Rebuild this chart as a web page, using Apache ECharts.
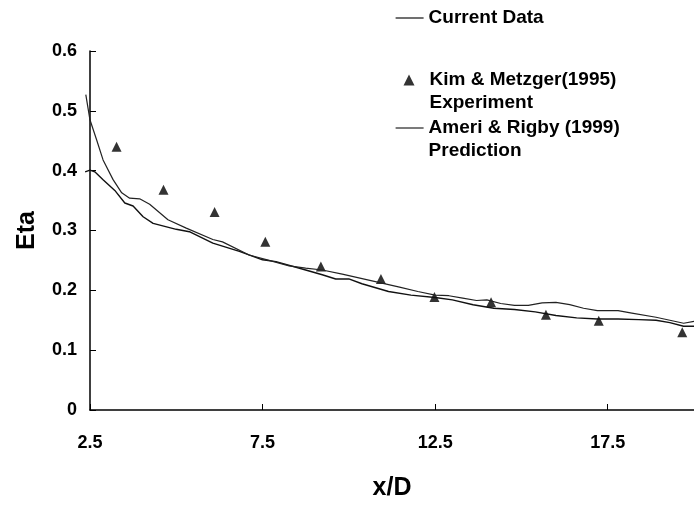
<!DOCTYPE html>
<html>
<head>
<meta charset="utf-8">
<script src="https://cdn.jsdelivr.net/npm/echarts@6/dist/echarts.min.js"></script>
<style>
  html, body { margin: 0; padding: 0; background: #fff; }
  #chart { width: 694px; height: 508px; }
</style>
</head>
<body>
<div id="chart"></div>
<script>
// Film cooling effectiveness (Eta) against downstream distance x/D

// Current computation
const currentX = [2.36, 2.5, 2.64, 2.88, 3.22, 3.51, 3.75, 4.04, 4.33, 5.0, 5.38, 6.06, 6.83, 7.5, 7.89, 8.75, 9.23, 9.62, 10.0, 10.38, 11.15, 11.8, 12.5, 13.0, 13.6, 14.2, 14.8, 15.4, 16.0, 16.6, 17.2, 17.8, 18.4, 18.9, 19.3, 19.7, 20.0];
const currentEta = [0.398, 0.401, 0.398, 0.385, 0.367, 0.346, 0.341, 0.323, 0.312, 0.302, 0.298, 0.279, 0.265, 0.251, 0.248, 0.234, 0.226, 0.219, 0.219, 0.211, 0.198, 0.192, 0.188, 0.184, 0.176, 0.170, 0.168, 0.164, 0.158, 0.154, 0.152, 0.152, 0.151, 0.150, 0.146, 0.140, 0.140];

// Kim & Metzger (1995) measurements
const expX = [3.27, 4.63, 6.11, 7.58, 9.19, 10.93, 12.48, 14.12, 15.71, 17.24, 19.66];
const expEta = [0.44, 0.368, 0.331, 0.281, 0.240, 0.219, 0.189, 0.180, 0.159, 0.149, 0.130];

// Ameri & Rigby (1999) prediction
const ameriX = [2.38, 2.5, 2.69, 2.88, 3.17, 3.42, 3.65, 3.94, 4.23, 4.76, 5.29, 6.06, 6.34, 7.11, 7.69, 8.27, 8.75, 9.23, 9.81, 10.96, 11.5, 12.0, 12.5, 12.9, 13.3, 13.7, 14.0, 14.4, 14.8, 15.2, 15.6, 16.0, 16.4, 16.8, 17.2, 17.8, 18.2, 18.9, 19.7, 20.0];
const ameriEta = [0.527, 0.485, 0.452, 0.418, 0.385, 0.363, 0.354, 0.353, 0.344, 0.318, 0.304, 0.285, 0.281, 0.259, 0.250, 0.241, 0.237, 0.234, 0.227, 0.212, 0.205, 0.198, 0.192, 0.191, 0.187, 0.183, 0.184, 0.178, 0.175, 0.175, 0.179, 0.180, 0.176, 0.170, 0.166, 0.166, 0.162, 0.155, 0.145, 0.148];

const seriesNames = ['Current Data', 'Kim & Metzger(1995)', 'Ameri & Rigby (1999)'];
const legendSubtitles = ['', 'Experiment', 'Prediction'];

const pairs = (xs, ys) => xs.map((x, i) => [x, ys[i]]);

const FONT = '"Liberation Sans", Arial, sans-serif';
const LINE_H = 23;

// Plot frame (px) and x range
const W = 694, H = 508;
const G = { left: 90, right: -3, top: 51, bottom: 98 };
const X_MIN = 2.5, X_MAX = 20;
// The curves start a little before x/D = 2.5, so they live on a hidden overlay grid
// whose x range begins earlier while keeping the same px-per-unit scale.
const X_MIN_WIDE = 2.2;
const pxPerUnit = (W - G.left - G.right) / (X_MAX - X_MIN);
const wideLeft = G.left - (X_MIN - X_MIN_WIDE) * pxPerUnit;

const legendText = (padLeft) => ({
  fontFamily: FONT,
  fontWeight: 'bold',
  fontSize: 19,
  color: '#000',
  lineHeight: LINE_H,
  padding: [0, 0, 0, padLeft]
});

// Two-line legend entries: a blank first line keeps the marker level with the series name
const twoLine = (sub) => (n) => '\n' + n + '\n' + sub;

const axisFont = { fontFamily: FONT, fontWeight: 'bold', color: '#000' };

const chart = echarts.init(document.getElementById('chart'), null, { renderer: 'canvas' });

chart.setOption({
  animation: false,
  backgroundColor: '#fff',
  grid: [
    { left: G.left, right: G.right, top: G.top, bottom: G.bottom },
    { left: wideLeft, right: G.right, top: G.top, bottom: G.bottom }
  ],
  legend: [
    {
      data: [seriesNames[0]],
      left: 395, top: 6.5, padding: 0,
      itemWidth: 28, itemHeight: 14,
      itemStyle: { opacity: 0 },
      lineStyle: { width: 1.2 },
      textStyle: legendText(0)
    },
    {
      data: [seriesNames[1]],
      left: 403.5, top: 45.5, padding: 0,
      itemWidth: 11, itemHeight: 11,
      formatter: twoLine(legendSubtitles[1]),
      textStyle: legendText(10)
    },
    {
      data: [seriesNames[2]],
      left: 395, top: 93.5, padding: 0,
      itemWidth: 28, itemHeight: 14,
      itemStyle: { opacity: 0 },
      lineStyle: { width: 1.2 },
      formatter: twoLine(legendSubtitles[2]),
      textStyle: legendText(0)
    }
  ],
  xAxis: [
    {
      type: 'value',
      gridIndex: 0,
      min: X_MIN, max: X_MAX, interval: 5,
      name: 'x/D',
      nameLocation: 'middle',
      nameGap: 66,
      nameTextStyle: Object.assign({ fontSize: 25 }, axisFont),
      axisLine: { show: true, onZero: false, lineStyle: { color: '#000', width: 1.5 } },
      axisTick: { show: true, inside: true, length: 6, lineStyle: { color: '#000', width: 1 } },
      axisLabel: Object.assign({ margin: 24, showMaxLabel: false, fontSize: 18 }, axisFont),
      splitLine: { show: false }
    },
    {
      type: 'value',
      gridIndex: 1,
      min: X_MIN_WIDE, max: X_MAX,
      show: false
    }
  ],
  yAxis: [
    {
      type: 'value',
      gridIndex: 0,
      min: 0, max: 0.6, interval: 0.1,
      name: 'Eta',
      nameLocation: 'middle',
      nameGap: 50,
      nameTextStyle: Object.assign({ fontSize: 25 }, axisFont),
      axisLine: { show: true, lineStyle: { color: '#000', width: 1.5 } },
      axisTick: { show: true, inside: true, length: 6, lineStyle: { color: '#000', width: 1 } },
      axisLabel: Object.assign({ margin: 13, fontSize: 18 }, axisFont),
      splitLine: { show: false }
    },
    {
      type: 'value',
      gridIndex: 1,
      min: 0, max: 0.6,
      show: false
    }
  ],
  series: [
    {
      name: seriesNames[0],
      type: 'line',
      xAxisIndex: 1, yAxisIndex: 1,
      data: pairs(currentX, currentEta),
      symbol: 'none',
      clip: false,
      lineStyle: { color: '#111', width: 1.4 },
      itemStyle: { color: '#111' }
    },
    {
      name: seriesNames[1],
      type: 'scatter',
      xAxisIndex: 0, yAxisIndex: 0,
      data: pairs(expX, expEta),
      symbol: 'triangle',
      symbolSize: [10, 10],
      itemStyle: { color: '#000' }
    },
    {
      name: seriesNames[2],
      type: 'line',
      xAxisIndex: 1, yAxisIndex: 1,
      data: pairs(ameriX, ameriEta),
      symbol: 'none',
      clip: false,
      lineStyle: { color: '#222', width: 1.2 },
      itemStyle: { color: '#222' }
    }
  ]
});
</script>
</body>
</html>
